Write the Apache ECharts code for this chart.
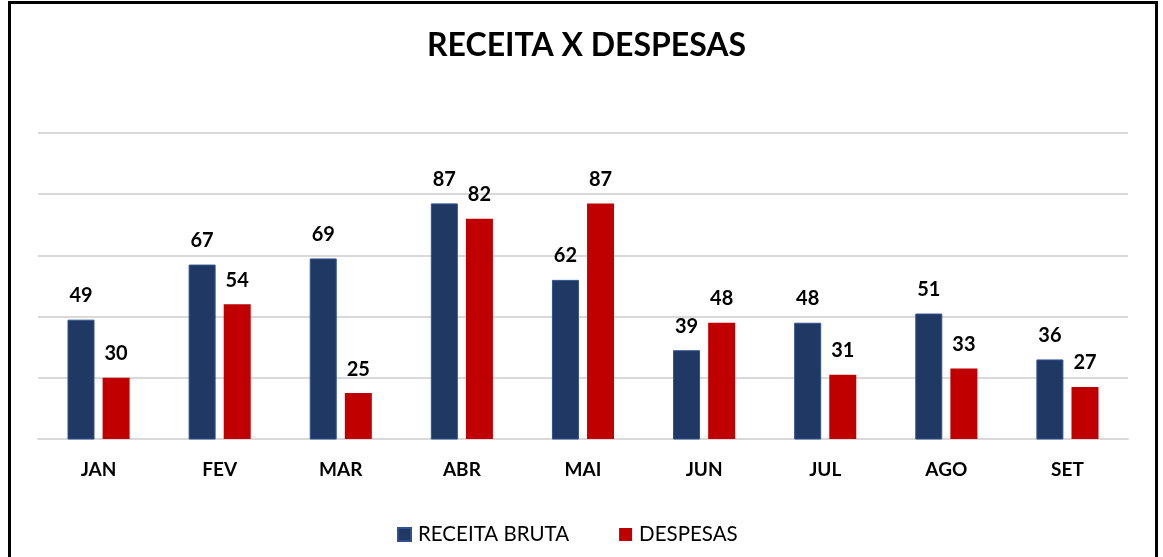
<!DOCTYPE html>
<html>
<head>
<meta charset="utf-8">
<script src="https://cdn.jsdelivr.net/npm/echarts@6/dist/echarts.min.js"></script>
<style>
  html, body { margin: 0; padding: 0; background: #fff; overflow: hidden; }
  #frame { position: absolute; left: 8px; top: 1px; width: 1144px; height: 620px; border: 3px solid #000; border-bottom: none; }
  #main { position: absolute; left: 0; top: 0; width: 1163px; height: 557px; }
</style>
</head>
<body>
<div id="frame"></div>
<div id="main"></div>
<script>
// dados
const meses = ['JAN', 'FEV', 'MAR', 'ABR', 'MAI', 'JUN', 'JUL', 'AGO', 'SET']
const receitaBruta = [49, 67, 69, 87, 62, 39, 48, 51, 36]
const despesas = [30, 54, 25, 82, 87, 48, 31, 33, 27]

const fonte = 'Lato, "Open Sans", sans-serif'

const rotulo = {
  show: true,
  position: 'top',
  distance: 14,
  fontFamily: fonte,
  fontSize: 20,
  fontWeight: 'bold',
  color: '#000'
}

let myChart = echarts.init(document.getElementById('main'))
myChart.setOption({
  animation: false,
  title: {
    text: 'RECEITA X DESPESAS',
    left: 422,
    top: 25,
    textStyle: {fontFamily: fonte, fontSize: 32, fontWeight: 'bold', color: '#000'}
  },
  legend: {
    left: 392,
    top: 519,
    itemWidth: 13,
    itemHeight: 13,
    itemGap: 50,
    icon: 'rect',
    textStyle: {fontFamily: fonte, fontSize: 20.5, color: '#000', padding: [0, 0, 0, 2]}
  },
  grid: {left: 38, right: 35, top: 133, bottom: 118},
  xAxis: {
    type: 'category',
    data: meses,
    axisLine: {lineStyle: {color: '#D9D9D9', width: 2}},
    axisTick: {show: false},
    axisLabel: {fontFamily: fonte, fontSize: 19, fontWeight: 'bold', color: '#000', margin: 21}
  },
  yAxis: {
    type: 'value',
    min: 10, //eixo começa em 10
    max: 110,
    interval: 20,
    axisLabel: {show: false},
    axisLine: {show: false},
    axisTick: {show: false},
    splitLine: {lineStyle: {color: '#D9D9D9', width: 2}}
  },
  series: [
    {
      name: 'RECEITA BRUTA',
      type: 'bar',
      data: receitaBruta,
      barWidth: 27,
      barGap: '30%',
      itemStyle: {color: '#1F3864', borderColor: '#2F528F', borderWidth: 1},
      label: rotulo
    },
    {
      name: 'DESPESAS',
      type: 'bar',
      data: despesas,
      barWidth: 27,
      itemStyle: {color: '#C00000'},
      label: rotulo
    }
  ]
})
</script>
</body>
</html>
